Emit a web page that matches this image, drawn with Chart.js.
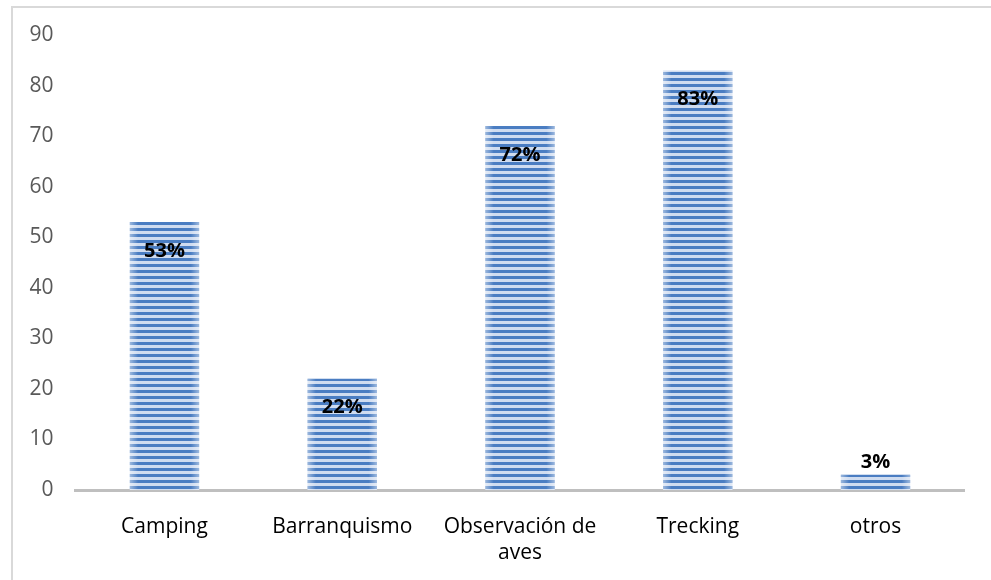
<!DOCTYPE html>
<html>
<head>
<meta charset="utf-8">
<script src="https://cdn.jsdelivr.net/npm/chart.js@4"></script>
<style>
  html, body { margin: 0; padding: 0; background: #fff; }
  #wrap { width: 991px; height: 580px; position: relative; }
</style>
</head>
<body>
<div id="wrap"><canvas id="chart" width="991" height="580"></canvas></div>
<script>
// ---------------------------
// Data
// ---------------------------
const categories = ["Camping", "Barranquismo", ["Observación de", "aves"], "Trecking", "otros"];
const values = [53, 22, 72, 83, 3];
const valueLabels = ["53%", "22%", "72%", "83%", "3%"];
const yTicks = [0, 10, 20, 30, 40, 50, 60, 70, 80, 90];

const FONT = "'Open Sans', 'Noto Sans', sans-serif";

// striped fill like the office "horizontal lines" pattern
function makeStripes() {
    const c = document.createElement("canvas");
    c.width = 8; c.height = 6;
    const g = c.getContext("2d");
    g.fillStyle = "#cfdcf0";
    g.fillRect(0, 0, 8, 6);
    g.fillStyle = "#4a7dc2";
    g.fillRect(0, 0, 8, 3);
    return g.createPattern(c, "repeat");
}

// frame around the chart + soft edges on bars + value labels
const extras = {
    id: "extras",
    beforeDraw(chart) {
        const ctx = chart.ctx;
        ctx.save();
        ctx.strokeStyle = "#d9d9d9";
        ctx.lineWidth = 2;
        ctx.strokeRect(12, 7, 1000, 600);
        ctx.restore();
    },
    afterDatasetsDraw(chart) {
        const ctx = chart.ctx;
        const meta = chart.getDatasetMeta(0);
        ctx.save();
        meta.data.forEach((bar, i) => {
            const left = bar.x - bar.width / 2;
            const right = bar.x + bar.width / 2;
            const grad = ctx.createLinearGradient(left, 0, right, 0);
            grad.addColorStop(0, "rgba(255,255,255,0.45)");
            grad.addColorStop(0.12, "rgba(255,255,255,0)");
            grad.addColorStop(0.88, "rgba(255,255,255,0)");
            grad.addColorStop(1, "rgba(255,255,255,0.45)");
            ctx.fillStyle = grad;
            ctx.fillRect(left, bar.y, bar.width, bar.base - bar.y);

            ctx.fillStyle = "#000";
            ctx.font = "bold 20px " + FONT;
            ctx.textAlign = "center";
            ctx.textBaseline = "middle";
            const h = bar.base - bar.y;
            const ly = h > 40 ? bar.y + 29 : bar.y - 13;
            ctx.fillText(valueLabels[i], bar.x, ly);
        });
        ctx.restore();
    }
};

new Chart(document.getElementById("chart"), {
    type: "bar",
    data: {
        labels: categories,
        datasets: [{
            data: values,
            backgroundColor: makeStripes(),
            borderWidth: 0,
            categoryPercentage: 1,
            barPercentage: 0.39
        }]
    },
    options: {
        responsive: false,
        animation: false,
        layout: { padding: { top: 35, right: 26.6, left: 0, bottom: 0 } },
        plugins: { legend: { display: false }, tooltip: { enabled: false } },
        scales: {
            x: {
                grid: { display: false, drawTicks: false },
                border: { color: "#bfbfbf", width: 3 },
                ticks: {
                    color: "#000",
                    padding: 24,
                    maxRotation: 0,
                    font: { family: FONT, size: 21, lineHeight: 1.24 }
                },
                afterFit: s => { s.height = 90; }
            },
            y: {
                min: 0,
                max: 90,
                afterBuildTicks: s => { s.ticks = yTicks.map(v => ({ value: v })); },
                grid: { display: false, drawTicks: false },
                border: { display: false },
                ticks: {
                    color: "#595959",
                    padding: 22,
                    font: { family: FONT, size: 21 }
                },
                afterFit: s => { s.width = 75.6; }
            }
        }
    },
    plugins: [extras]
});
</script>
</body>
</html>
